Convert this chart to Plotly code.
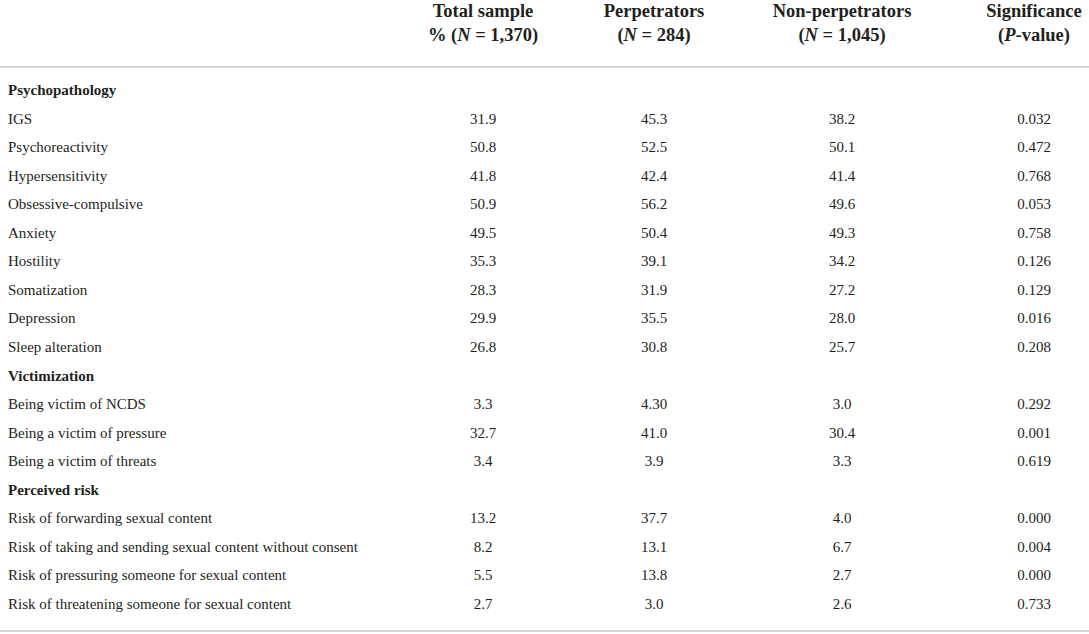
import plotly.graph_objects as go

# table content
col_heads = [
    "<b>Total sample</b><br><b>% (<i>N</i> = 1,370)</b>",
    "<b>Perpetrators</b><br><b>(<i>N</i> = 284)</b>",
    "<b>Non-perpetrators</b><br><b>(<i>N</i> = 1,045)</b>",
    "<b>Significance</b><br><b>(<i>P</i>-value)</b>",
]

sections = ["Psychopathology", "Victimization", "Perceived risk"]

psy_items = ["IGS", "Psychoreactivity", "Hypersensitivity", "Obsessive-compulsive",
             "Anxiety", "Hostility", "Somatization", "Depression", "Sleep alteration"]
psy_total = ["31.9", "50.8", "41.8", "50.9", "49.5", "35.3", "28.3", "29.9", "26.8"]
psy_perp = ["45.3", "52.5", "42.4", "56.2", "50.4", "39.1", "31.9", "35.5", "30.8"]
psy_nonperp = ["38.2", "50.1", "41.4", "49.6", "49.3", "34.2", "27.2", "28.0", "25.7"]
psy_p = ["0.032", "0.472", "0.768", "0.053", "0.758", "0.126", "0.129", "0.016", "0.208"]

vic_items = ["Being victim of NCDS", "Being a victim of pressure", "Being a victim of threats"]
vic_total = ["3.3", "32.7", "3.4"]
vic_perp = ["4.30", "41.0", "3.9"]
vic_nonperp = ["3.0", "30.4", "3.3"]
vic_p = ["0.292", "0.001", "0.619"]

risk_items = ["Risk of forwarding sexual content",
              "Risk of taking and sending sexual content without consent",
              "Risk of pressuring someone for sexual content",
              "Risk of threatening someone for sexual content"]
risk_total = ["13.2", "8.2", "5.5", "2.7"]
risk_perp = ["37.7", "13.1", "13.8", "3.0"]
risk_nonperp = ["4.0", "6.7", "2.7", "2.6"]
risk_p = ["0.000", "0.004", "0.000", "0.733"]

# layout constants (pixels)
W, H = 1089, 634
col_x = [483, 654, 842, 1034]
label_x = 8
row0_y = 91.5
row_step = 28.53
font_family = "Liberation Serif, Times New Roman, serif"
ink = "#231f20"
rule_color = "#c8c8c8"

groups = [
    (sections[0], psy_items, [psy_total, psy_perp, psy_nonperp, psy_p]),
    (sections[1], vic_items, [vic_total, vic_perp, vic_nonperp, vic_p]),
    (sections[2], risk_items, [risk_total, risk_perp, risk_nonperp, risk_p]),
]

label_text, label_y = [], []
cell_text = [[] for _ in col_x]
cell_y = []
r = 0
for title, items, cols in groups:
    label_text.append("<b>" + title + "</b>")
    label_y.append(row0_y + r * row_step)
    r += 1
    for i, item in enumerate(items):
        y = row0_y + r * row_step
        label_text.append(item)
        label_y.append(y)
        cell_y.append(y)
        for c in range(len(col_x)):
            cell_text[c].append(cols[c][i])
        r += 1

fig = go.Figure()

fig.add_trace(go.Scatter(
    x=[label_x] * len(label_text), y=label_y, text=label_text,
    mode="text", textposition="middle right",
    textfont=dict(family=font_family, size=15, color=ink),
    hoverinfo="skip", showlegend=False,
))

for c, cx in enumerate(col_x):
    fig.add_trace(go.Scatter(
        x=[cx] * len(cell_y), y=cell_y, text=cell_text[c],
        mode="text", textposition="middle center",
        textfont=dict(family=font_family, size=15, color=ink),
        hoverinfo="skip", showlegend=False,
    ))

fig.add_trace(go.Scatter(
    x=col_x, y=[24] * len(col_x), text=col_heads,
    mode="text", textposition="middle center",
    textfont=dict(family=font_family, size=18.5, color=ink),
    hoverinfo="skip", showlegend=False,
))

for ry in [67, 631]:
    fig.add_shape(type="line", xref="x", yref="y", x0=0, x1=W, y0=ry, y1=ry,
                  line=dict(color=rule_color, width=1.5))

fig.update_layout(
    width=W, height=H,
    margin=dict(l=0, r=0, t=0, b=0),
    paper_bgcolor="white", plot_bgcolor="white",
    xaxis=dict(range=[0, W], visible=False, fixedrange=True),
    yaxis=dict(range=[H, 0], visible=False, fixedrange=True),
)

# drop the default 8px body margin so the figure fills the window
fig.write_html("out.html", config={"displayModeBar": False},
               post_script="document.body.style.margin='0';")
